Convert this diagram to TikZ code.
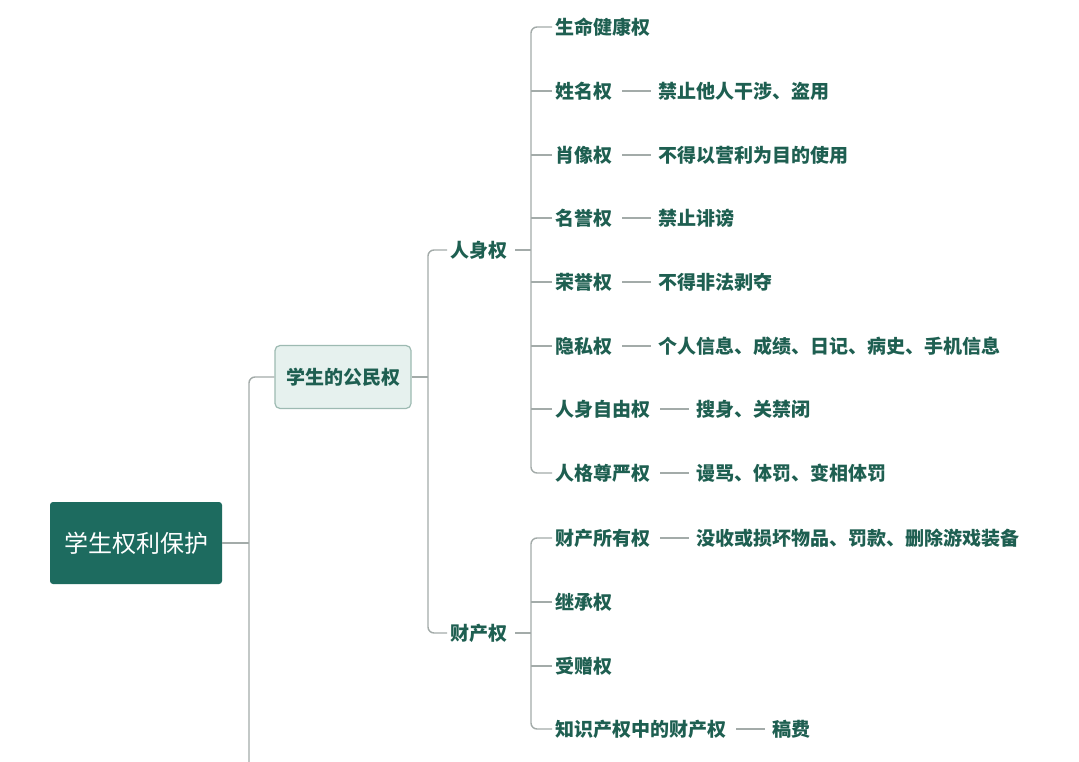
\documentclass[tikz,border=0pt]{standalone}
\usepackage{fontspec}
\setmainfont{Noto Sans CJK SC}
\usepackage{tikz}
\usetikzlibrary{positioning}
\definecolor{mmdark}{HTML}{1D6B5F}
\definecolor{mmtext}{HTML}{1E5F51}
\definecolor{mmlight}{HTML}{E6F1EE}
\definecolor{mmedge}{HTML}{9DBAB2}
\definecolor{mmline}{HTML}{A3ABA9}
\tikzset{
  rootbox/.style={fill=mmdark, rounded corners=3pt, text=white, font=\fontsize{24}{28}\selectfont,
    minimum width=172pt, minimum height=82pt},
  topicbox/.style={fill=mmlight, draw=mmedge, line width=1.2pt, rounded corners=5pt, text=mmtext,
    font=\fontsize{19}{22}\selectfont\bfseries, minimum width=136pt, minimum height=63pt},
  leaf/.style={anchor=west, inner sep=3pt, text=mmtext, font=\fontsize{19}{22}\selectfont\bfseries},
  desc/.style={leaf, right=40pt of #1},
  conn/.style={draw=mmline, line width=1.4pt, rounded corners=6pt},
  sep/.style={draw=mmline, line width=1.2pt, shorten <=7pt, shorten >=4pt}
}
\begin{document}
\begin{tikzpicture}[x=1pt,y=-1pt]
    \useasboundingbox[fill=white] (0,0) rectangle (1079,762);
    \node[rootbox] (root) at (136,543) {学生权利保护};
    \node[topicbox] (gm) at (343,377) {学生的公民权};
    \node[leaf] (rs) at (447,250) {人身权};
    \node[leaf] (cc) at (447,633) {财产权};
    \node[leaf] (a1) at (552,27) {生命健康权};
    \node[leaf] (a2) at (552,91) {姓名权};
    \node[leaf] (a3) at (552,155) {肖像权};
    \node[leaf] (a4) at (552,218) {名誉权};
    \node[leaf] (a5) at (552,282) {荣誉权};
    \node[leaf] (a6) at (552,346) {隐私权};
    \node[leaf] (a7) at (552,409) {人身自由权};
    \node[leaf] (a8) at (552,473) {人格尊严权};
    \node[desc=a2] (d2) {禁止他人干涉、盗用};
    \node[desc=a3] (d3) {不得以营利为目的使用};
    \node[desc=a4] (d4) {禁止诽谤};
    \node[desc=a5] (d5) {不得非法剥夺};
    \node[desc=a6] (d6) {个人信息、成绩、日记、病史、手机信息};
    \node[desc=a7] (d7) {搜身、关禁闭};
    \node[desc=a8] (d8) {谩骂、体罚、变相体罚};
    \node[leaf] (b1) at (552,538) {财产所有权};
    \node[leaf] (b2) at (552,602) {继承权};
    \node[leaf] (b3) at (552,666) {受赠权};
    \node[leaf] (b4) at (552,729) {知识产权中的财产权};
    \node[desc=b1] (e1) {没收或损坏物品、罚款、删除游戏装备};
    \node[desc=b4] (e4) {稿费};
    \coordinate (tr) at (249,543);
    \coordinate (gj) at (428,377);
    \coordinate (rj) at (531,250);
    \coordinate (cj) at (531,633);
    \draw[conn] (root.east) -- (tr);
    \draw[conn] (gm.west) -| (249,770);
    \draw[conn] (gm.east) -- (gj);
    \draw[conn] (rs.west) -| (gj) |- (cc.west);
    \draw[conn, shorten <=5pt] (rs.east) -- (rj);
    \draw[conn, shorten <=5pt] (cc.east) -- (cj);
    \draw[conn] (a1.west) -| (rj) |- (a8.west);
    \draw[conn] (b1.west) -| (cj) |- (b4.west);
    \foreach \n in {a2,a3,a4,a5,a6,a7,b2,b3}
      \draw[conn] (\n.west) -- (\n.west -| rj);
    \foreach \a/\b in {a2/d2,a3/d3,a4/d4,a5/d5,a6/d6,a7/d7,a8/d8,b1/e1,b4/e4}
      \draw[sep] (\a.east) -- (\b.west);
\end{tikzpicture}
\end{document}
